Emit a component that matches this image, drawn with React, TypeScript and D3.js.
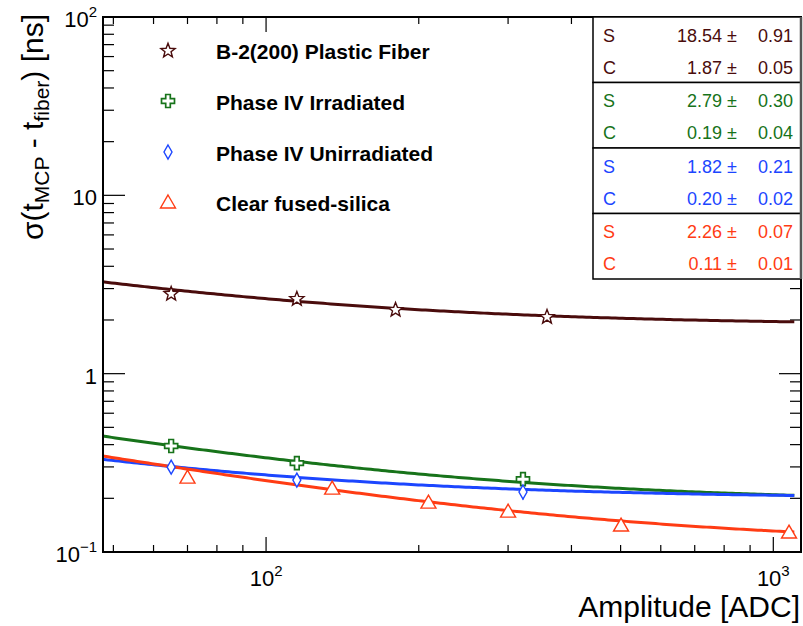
import React from "react";
import * as d3 from "d3";

// ---- Data ----
const seriesNames = ["B-2(200) Plastic Fiber", "Phase IV Irradiated", "Phase IV Unirradiated", "Clear fused-silica"];
const seriesColors = ["#4a0c0c", "#17731a", "#1c46ff", "#ff3c14"];
const seriesMarkers = ["star", "cross", "diamond", "triangle"];

const ampStar = [65, 115, 180, 358];
const sigStar = [2.83, 2.65, 2.3, 2.1];
const errStar = [0.03, 0.03, 0.03, 0.03];

const ampIrr = [65, 115, 321];
const sigIrr = [0.393, 0.315, 0.256];
const errIrr = [0.008, 0.008, 0.02];

const ampUnirr = [65, 115, 321];
const sigUnirr = [0.299, 0.253, 0.217];
const errUnirr = [0.006, 0.006, 0.02];

const ampSilica = [70, 135, 209, 300, 501, 1074];
const sigSilica = [0.263, 0.228, 0.1905, 0.1696, 0.1416, 0.1294];
const errSilica = [0.003, 0.003, 0.003, 0.003, 0.003, 0.003];

// fit parameters: sigma = sqrt(S^2/A + C^2)
const fitS = [18.54, 2.79, 1.82, 2.26];
const fitSErr = ["0.91", "0.30", "0.21", "0.07"];
const fitC = [1.87, 0.19, 0.2, 0.11];
const fitCErr = ["0.05", "0.04", "0.02", "0.01"];
const fitSText = ["18.54", "2.79", "1.82", "2.26"];
const fitCText = ["1.87", "0.19", "0.20", "0.11"];
const fitRange = [40, 1100];

const xDomain = [47.7, 1134];
const yDomain = [0.1, 100];

const W = 803, H = 626;
const L = 103, R = 801, T = 17, B = 552;
const FONT = "'Liberation Sans', Arial, Helvetica, sans-serif";

function Marker({ type, x, y, color }: { type: string; x: number; y: number; color: string }) {
  const sw = 1.4;
  if (type === "star") {
    const pts: string[] = [];
    const ro = 7.5, ri = 3.2;
    for (let i = 0; i < 10; i++) {
      const a = -Math.PI / 2 + (i * Math.PI) / 5;
      const r = i % 2 === 0 ? ro : ri;
      pts.push(`${x + r * Math.cos(a)},${y + r * Math.sin(a) + 0.8}`);
    }
    return <polygon points={pts.join(" ")} fill="white" stroke={color} strokeWidth={sw} />;
  }
  if (type === "cross") {
    const a = 6.5, b = 2.3;
    const p = [
      [-b, -a], [b, -a], [b, -b], [a, -b], [a, b], [b, b], [b, a], [-b, a], [-b, b], [-a, b], [-a, -b], [-b, -b],
    ].map(([dx, dy]) => `${x + dx},${y + dy}`).join(" ");
    return <polygon points={p} fill="white" stroke={color} strokeWidth={sw + 0.3} />;
  }
  if (type === "diamond") {
    const p = [[0, -7], [4, 0], [0, 7], [-4, 0]].map(([dx, dy]) => `${x + dx},${y + dy}`).join(" ");
    return <polygon points={p} fill="white" stroke={color} strokeWidth={sw} />;
  }
  const p = [[0, -7], [7.5, 6], [-7.5, 6]].map(([dx, dy]) => `${x + dx},${y + dy}`).join(" ");
  return <polygon points={p} fill="white" stroke={color} strokeWidth={sw} />;
}

export default function App() {
  const x = d3.scaleLog().domain(xDomain).range([L, R]);
  const y = d3.scaleLog().domain(yDomain).range([B, T]);

  const series = [
    { a: ampStar, s: sigStar, e: errStar },
    { a: ampIrr, s: sigIrr, e: errIrr },
    { a: ampUnirr, s: sigUnirr, e: errUnirr },
    { a: ampSilica, s: sigSilica, e: errSilica },
  ];

  const xTicks = x.ticks();
  const yTicks = y.ticks();
  const isMajor = (v: number) => Math.abs(Math.log10(v) - Math.round(Math.log10(v))) < 1e-6;

  const line = d3.line<number>().x((a) => x(a)).y((a) => 0);
  const curves = fitS.map((S, i) => {
    const C = fitC[i];
    const n = 200;
    const l0 = Math.log10(fitRange[0]), l1 = Math.log10(fitRange[1]);
    const pts: [number, number][] = [];
    for (let k = 0; k <= n; k++) {
      const a = Math.pow(10, l0 + ((l1 - l0) * k) / n);
      pts.push([x(a), y(Math.sqrt((S * S) / a + C * C))]);
    }
    return d3.line()(pts) as string;
  });
  void line;

  const legendY = [50, 101, 152, 202];
  const boxL = 593, boxTop = T, boxH = 65.5;

  return (
    <svg width={W} height={H} style={{ position: "absolute", left: 0, top: 0, background: "white" }} fontFamily={FONT}>
      <rect x={0} y={0} width={W} height={H} fill="white" />
      <defs>
        <clipPath id="frame">
          <rect x={L} y={T} width={R - L} height={B - T} />
        </clipPath>
      </defs>

      {/* ticks */}
      {xTicks.map((v, i) => {
        const len = isMajor(v) ? 15 : 7;
        return (
          <g key={"xt" + i} stroke="black" strokeWidth={1.2}>
            <line x1={x(v)} x2={x(v)} y1={B} y2={B - len} />
            <line x1={x(v)} x2={x(v)} y1={T} y2={T + len} />
          </g>
        );
      })}
      {yTicks.map((v, i) => {
        const len = isMajor(v) ? 22 : 11;
        return (
          <g key={"yt" + i} stroke="black" strokeWidth={1.2}>
            <line x1={L} x2={L + len} y1={y(v)} y2={y(v)} />
            <line x1={R} x2={R - len} y1={y(v)} y2={y(v)} />
          </g>
        );
      })}

      {/* fit curves */}
      <g clipPath="url(#frame)">
        {curves.map((d, i) => (
          <path key={"c" + i} d={d} fill="none" stroke={seriesColors[i]} strokeWidth={3} />
        ))}
      </g>

      {/* points */}
      {series.map((sr, i) => (
        <g key={"s" + i}>
          {sr.a.map((a, j) => (
            <g key={j}>
              <line x1={x(a)} x2={x(a)} y1={y(sr.s[j] + sr.e[j])} y2={y(sr.s[j] - sr.e[j])} stroke={seriesColors[i]} strokeWidth={1.4} />
              <Marker type={seriesMarkers[i]} x={x(a)} y={y(sr.s[j])} color={seriesColors[i]} />
            </g>
          ))}
        </g>
      ))}

      {/* frame */}
      <rect x={L} y={T} width={R - L} height={B - T} fill="none" stroke="black" strokeWidth={2} />

      {/* stats box */}
      {fitS.map((S, i) => {
        const top = boxTop + i * boxH;
        const col = seriesColors[i];
        return (
          <g key={"st" + i}>
            <rect x={boxL} y={top} width={R - boxL} height={boxH} fill="white" stroke="black" strokeWidth={1.5} />
            <text x={603} y={top + 24.5} fontSize={18} fill={col}>S</text>
            <text x={603} y={top + 56.5} fontSize={18} fill={col}>C</text>
            <text x={737} y={top + 24.5} fontSize={18} fill={col} textAnchor="end">{fitSText[i]} ±</text>
            <text x={737} y={top + 56.5} fontSize={18} fill={col} textAnchor="end">{fitCText[i]} ±</text>
            <text x={793} y={top + 24.5} fontSize={18} fill={col} textAnchor="end">{fitSErr[i]}</text>
            <text x={793} y={top + 56.5} fontSize={18} fill={col} textAnchor="end">{fitCErr[i]}</text>
          </g>
        );
      })}
      <line x1={R} x2={R} y1={T} y2={boxTop + 4 * boxH} stroke="#555" strokeWidth={2.5} />

      {/* legend */}
      {seriesNames.map((name, i) => (
        <g key={"lg" + i}>
          <Marker type={seriesMarkers[i]} x={168} y={legendY[i]} color={seriesColors[i]} />
          <text x={216} y={legendY[i] + 8.5} fontSize={21} fontWeight="bold" fill="black">{name}</text>
        </g>
      ))}

      {/* y tick labels */}
      {yTicks.filter(isMajor).map((v, i) => {
        const e = Math.round(Math.log10(v));
        const yy = y(v) + 10;
        if (e === 0) return <text key={"yl" + i} x={97} y={yy} fontSize={22} textAnchor="end">1</text>;
        if (e === 1) return <text key={"yl" + i} x={97} y={yy} fontSize={22} textAnchor="end">10</text>;
        return (
          <text key={"yl" + i} x={97} y={yy} fontSize={22} textAnchor="end">
            10<tspan fontSize={15} dy={-10}>{e < 0 ? "\u2212" + -e : e}</tspan>
          </text>
        );
      })}

      {/* x tick labels */}
      {xTicks.filter(isMajor).map((v, i) => {
        const e = Math.round(Math.log10(v));
        return (
          <text key={"xl" + i} x={x(v)} y={586} fontSize={22} textAnchor="middle">
            10<tspan fontSize={15} dy={-10}>{e}</tspan>
          </text>
        );
      })}

      {/* axis titles */}
      <text x={800} y={617} fontSize={30} textAnchor="end">Amplitude [ADC]</text>
      <text transform="translate(43,14) rotate(-90)" fontSize={30} textAnchor="end">
        σ(t<tspan fontSize={21} dy={6}>MCP</tspan><tspan dy={-6}> - t</tspan><tspan fontSize={21} dy={6}>fiber</tspan><tspan dy={-6}>) [ns]</tspan>
      </text>
    </svg>
  );
}
